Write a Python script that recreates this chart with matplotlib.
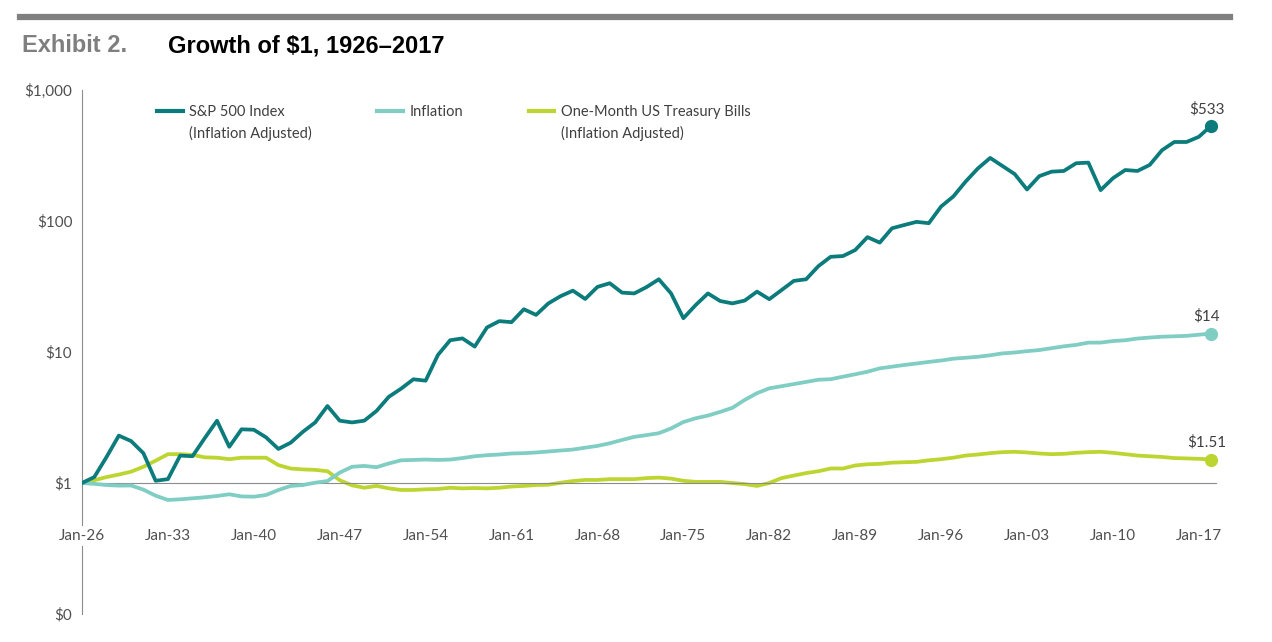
import numpy as np
import matplotlib.pyplot as plt
from matplotlib.lines import Line2D
from matplotlib.ticker import NullLocator

plt.rcParams['text.parse_math'] = False
plt.rcParams['font.family'] = ['Lato', 'DejaVu Sans']

# year-end growth of $1 (plotted at Jan of the next year)
years = np.arange(1926, 2019)
sp500 = [1.00, 1.11, 1.58, 2.30, 2.09, 1.69, 1.04, 1.07, 1.62, 1.60,
         2.20, 2.99, 1.89, 2.57, 2.55, 2.23, 1.82, 2.03, 2.46, 2.90,
         3.87, 2.99, 2.90, 2.99, 3.55, 4.55, 5.25, 6.19, 6.04, 9.49,
         12.3, 12.7, 11.0, 15.4, 17.2, 16.9, 21.2, 19.2, 23.5, 26.7,
         29.4, 25.4, 31.4, 33.5, 28.4, 28.0, 31.3, 35.9, 28.0, 18.1,
         22.8, 28.0, 24.5, 23.5, 24.7, 28.9, 25.3, 29.7, 34.9, 35.9,
         45.2, 53.3, 54.0, 60.0, 75.3, 68.4, 88.0, 93.2, 98.5, 96.2,
         129, 154, 200, 252, 303, 263, 228, 174, 220, 238,
         241, 276, 279, 172, 212, 245, 241, 268, 347, 401,
         401, 439, 533]
inflation = [1.00, 0.985, 0.965, 0.955, 0.957, 0.89, 0.80, 0.742, 0.751, 0.764,
             0.778, 0.796, 0.82, 0.79, 0.786, 0.81, 0.884, 0.949, 0.965, 1.005,
             1.035, 1.20, 1.33, 1.35, 1.32, 1.41, 1.49, 1.50, 1.51, 1.50,
             1.51, 1.55, 1.60, 1.63, 1.65, 1.68, 1.69, 1.71, 1.74, 1.77,
             1.80, 1.86, 1.92, 2.01, 2.13, 2.25, 2.32, 2.40, 2.61, 2.92,
             3.12, 3.27, 3.49, 3.75, 4.31, 4.85, 5.28, 5.48, 5.69, 5.91,
             6.14, 6.20, 6.48, 6.76, 7.07, 7.50, 7.73, 7.96, 8.17, 8.40,
             8.61, 8.89, 9.04, 9.19, 9.44, 9.76, 9.91, 10.15, 10.35, 10.69,
             11.05, 11.33, 11.79, 11.80, 12.12, 12.30, 12.67, 12.89, 13.08, 13.18,
             13.28, 13.55, 13.84]
tbills = [1.00, 1.05, 1.11, 1.16, 1.22, 1.33, 1.48, 1.66, 1.66, 1.64,
          1.57, 1.56, 1.52, 1.56, 1.56, 1.56, 1.37, 1.29, 1.27, 1.26,
          1.23, 1.05, 0.96, 0.92, 0.95, 0.91, 0.885, 0.885, 0.895, 0.90,
          0.92, 0.91, 0.915, 0.91, 0.92, 0.94, 0.95, 0.965, 0.97, 1.005,
          1.035, 1.055, 1.055, 1.07, 1.07, 1.07, 1.09, 1.10, 1.08, 1.04,
          1.02, 1.02, 1.02, 1.00, 0.98, 0.95, 1.00, 1.09, 1.14, 1.19,
          1.23, 1.29, 1.29, 1.36, 1.39, 1.40, 1.43, 1.44, 1.45, 1.49,
          1.52, 1.56, 1.62, 1.65, 1.69, 1.72, 1.73, 1.71, 1.68, 1.66,
          1.67, 1.70, 1.72, 1.73, 1.70, 1.66, 1.62, 1.60, 1.58, 1.55,
          1.54, 1.53, 1.51]

series_names = ['S&P 500 Index\n(Inflation Adjusted)', 'Inflation',
                'One-Month US Treasury Bills\n(Inflation Adjusted)']
end_labels = ['$533', '$14', '$1.51']
colors = ['#0b7b7b', '#7fcdc3', '#bdd530']

x_ticks = list(range(1926, 2018, 7))
x_labels = ['Jan-%02d' % (y % 100) for y in x_ticks]
y_ticks = [0.1, 1, 10, 100, 1000]
y_labels = ['$0', '$1', '$10', '$100', '$1,000']

W, H = 1272, 642
fig = plt.figure(figsize=(W / 100, H / 100), dpi=100)

# header
fig.add_artist(Line2D([20 / W, 1230 / W], [1 - 17 / H] * 2, lw=4.5, color='#808080'))
fig.text(22 / W, 1 - 46 / H, 'Exhibit 2.', family='Liberation Sans', weight='bold',
         size=17, color='#7f7f7f', va='center')
fig.text(168 / W, 1 - 46 / H, 'Growth of $1, 1926\u20132017', family='Liberation Sans',
         weight='bold', size=17, color='black', va='center')

ax = fig.add_axes([82 / W, 1 - 614 / H, (1216 - 82) / W, (614 - 90) / H])
ax.set_yscale('log')
ax.set_ylim(0.1, 1000)
ax.set_xlim(1926, 2018.4)

data = [sp500, inflation, tbills]
lines = []
for i, (vals, name, col) in enumerate(zip(data, series_names, colors)):
    z = 4 - i
    ln, = ax.plot(years, vals, color=col, lw=2.7, label=name, zorder=z)
    ax.plot(years[-1], vals[-1], 'o', color=col, ms=8.5, zorder=z, clip_on=False)
    ax.annotate(end_labels[i], (years[-1], vals[-1]), xytext=(-3, 7),
                textcoords='offset points', ha='center', va='bottom',
                size=11, color='#404040')
    lines.append(ln)

for s in ['top', 'right']:
    ax.spines[s].set_visible(False)
ax.spines['left'].set_color('#8c8c8c')
ax.spines['bottom'].set_color('#8c8c8c')
ax.spines['bottom'].set_position(('data', 1))

ax.set_yticks(y_ticks)
ax.set_yticklabels(y_labels)
ax.yaxis.set_minor_locator(NullLocator())
ax.set_xticks(x_ticks)
ax.set_xticklabels(x_labels)
ax.tick_params(axis='both', length=0, labelsize=11, labelcolor='#505050')
ax.tick_params(axis='y', pad=7)
ax.tick_params(axis='x', pad=33)
ax.xaxis.set_zorder(3)
for t in ax.get_xticklabels():
    t.set_bbox(dict(facecolor='white', edgecolor='none', pad=2))

leg = ax.legend(handles=lines, ncol=3, frameon=False, loc='upper left',
                bbox_to_anchor=(157 / W, 1 - 105 / H), bbox_transform=fig.transFigure,
                borderpad=0, borderaxespad=0, fontsize=10.5, handlelength=1.75,
                handleheight=1.1, handletextpad=0.45, columnspacing=4.5,
                labelcolor='#404040')
for h in leg.legend_handles:
    h.set_linewidth(3)
for t in leg.get_texts():
    t.set_linespacing(1.55)
# put the handle next to the first text line, columns aligned at the top
leg._legend_handle_box.align = 'top'
for col in leg._legend_handle_box.get_children():
    col.align = 'left'
    for item in col.get_children():
        item.align = 'top'

fig.savefig('out.png', dpi=100)
